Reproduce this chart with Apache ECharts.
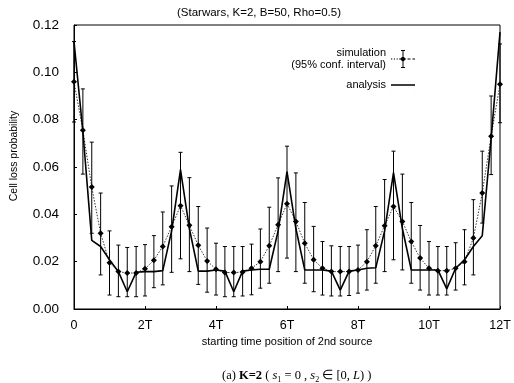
<!DOCTYPE html>
<html>
<head>
<meta charset="utf-8">
<script src="https://cdn.jsdelivr.net/npm/echarts/dist/echarts.min.js"></script>
<style>
  html, body { margin: 0; padding: 0; background: #fff; }
  #chart { width: 514px; height: 383px; }
</style>
</head>
<body>
<div id="chart"></div>
<script>
// start position of 2nd source, in units of T
const positions = [
  0, 0.25, 0.5, 0.75, 1, 1.25, 1.5, 1.75, 2, 2.25, 2.5, 2.75,
  3, 3.25, 3.5, 3.75, 4, 4.25, 4.5, 4.75, 5, 5.25, 5.5, 5.75,
  6, 6.25, 6.5, 6.75, 7, 7.25, 7.5, 7.75, 8, 8.25, 8.5, 8.75,
  9, 9.25, 9.5, 9.75, 10, 10.25, 10.5, 10.75, 11, 11.25, 11.5, 11.75, 12
]
// simulation mean and 95% confidence bounds
const simMean = [
  0.096, 0.0755, 0.0515, 0.032, 0.0195, 0.0158, 0.0152, 0.0152, 0.017, 0.0206, 0.0264, 0.0348,
  0.0436, 0.0354, 0.0269, 0.0203, 0.0168, 0.0154, 0.0154, 0.0156, 0.0172, 0.020, 0.0267, 0.0356,
  0.0445, 0.037, 0.0278, 0.0208, 0.0172, 0.0158, 0.0158, 0.0158, 0.0165, 0.020, 0.0267, 0.0352,
  0.0433, 0.037, 0.0285, 0.0215, 0.0172, 0.0162, 0.0162, 0.0172, 0.020, 0.030, 0.049, 0.073, 0.095
]
const simLow = [
  0.079, 0.057, 0.032, 0.0144, 0.0059, 0.0052, 0.0052, 0.0052, 0.0055, 0.009, 0.0102, 0.0155,
  0.0212, 0.0158, 0.0104, 0.0071, 0.0059, 0.0052, 0.0052, 0.0055, 0.006, 0.0088, 0.0109, 0.0158,
  0.0215, 0.0158, 0.0109, 0.0073, 0.0059, 0.0055, 0.0055, 0.0057, 0.0067, 0.008, 0.0109, 0.0158,
  0.0208, 0.0165, 0.0109, 0.008, 0.0059, 0.0059, 0.0059, 0.008, 0.0102, 0.0144, 0.0363, 0.0568, 0.0787
]
const simHigh = [
  0.113, 0.093, 0.0705, 0.049, 0.033, 0.027, 0.026, 0.0264, 0.0272, 0.031, 0.041, 0.052,
  0.0662, 0.0555, 0.0433, 0.0342, 0.0278, 0.0264, 0.0264, 0.0264, 0.0274, 0.0338, 0.043, 0.0554,
  0.0688, 0.0575, 0.045, 0.0349, 0.0285, 0.0267, 0.0264, 0.0264, 0.027, 0.0335, 0.0433, 0.0547,
  0.0667, 0.057, 0.045, 0.0353, 0.0285, 0.0264, 0.0264, 0.028, 0.0335, 0.0462, 0.0667, 0.090, 0.112
]
// analytical result
const analysis = [
  0.113, 0.075, 0.029, 0.0264, 0.0208, 0.0158, 0.0073, 0.0155, 0.0158, 0.0158, 0.0162, 0.033,
  0.0589, 0.034, 0.016, 0.016, 0.0165, 0.016, 0.0073, 0.016, 0.0165, 0.0168, 0.0168, 0.033,
  0.058, 0.034, 0.0165, 0.0165, 0.0165, 0.016, 0.008, 0.016, 0.0165, 0.0172, 0.0174, 0.033,
  0.0576, 0.034, 0.0165, 0.0165, 0.0165, 0.0165, 0.0085, 0.0172, 0.0208, 0.0264, 0.031, 0.072, 0.117
]
const xTicks = [0, 2, 4, 6, 8, 10, 12]

const simName = 'simulation\n(95% conf. interval)'
const anaName = 'analysis'

const pairs = (ys) => positions.map((x, i) => [x, ys[i]])
const barData = positions.map((x, i) => [x, simLow[i], simHigh[i]])

const chart = echarts.init(document.getElementById('chart'))

// legend glyphs: dotted lead-in, error bar with diamond, dashed tail / plain solid line
const simIcon = 'path://M0,8.5h1.2v1h-1.2z M2.8,8.5h1.2v1h-1.2z M5.6,8.5h1.2v1h-1.2z M8.2,8.5h1.2v1h-1.2z' +
  ' M11.5,0h1v18h-1z M10,0h4v1h-4z M10,17h4v1h-4z M12,6L15,9L12,12L9,9z' +
  ' M16.5,8.5h3v1h-3z M21.5,8.5h2.5v1h-2.5z'
const anaIcon = 'path://M0,0h0.01v18h-0.01z M0,8.3h24v1.4h-24z M23.99,0h0.01v18h-0.01z'

const option = {
  animation: false,
  textStyle: { fontFamily: 'Liberation Sans, Arial, sans-serif', color: '#000' },
  title: [{
    text: '(Starwars, K=2, B=50, Rho=0.5)',
    left: 172, top: 2,
    textStyle: { fontSize: 11.5, fontWeight: 'normal', color: '#000' }
  }, {
    text: '(a) {b|K=2} ( {i|s}{sub|1} = 0 , {i|s}{sub|2} ∈ [0, {i|L}) )',
    left: 217, top: 363,
    textStyle: {
      fontFamily: 'Liberation Serif, serif', fontSize: 12.5, fontWeight: 'normal', color: '#000',
      rich: {
        b: { fontFamily: 'Liberation Serif, serif', fontSize: 12.5, fontWeight: 'bold' },
        i: { fontFamily: 'Liberation Serif, serif', fontSize: 12.5, fontStyle: 'italic' },
        sub: { fontFamily: 'Liberation Serif, serif', fontSize: 8, padding: [8, 0, 0, 0] }
      }
    }
  }],
  legend: {
    orient: 'vertical',
    right: 94, top: 42,
    align: 'right',
    itemWidth: 24, itemHeight: 18, itemGap: 5,
    textStyle: { fontSize: 11, lineHeight: 12, color: '#000' },
    data: [{ name: simName, icon: simIcon }, { name: anaName, icon: anaIcon }]
  },
  grid: {
    left: 74, right: 14, top: 25, bottom: 74,
    show: true, borderColor: '#000', borderWidth: 1
  },
  xAxis: {
    type: 'value', min: 0, max: 12, interval: 2,
    name: 'starting time position of 2nd source',
    nameLocation: 'middle', nameGap: 23,
    nameTextStyle: { fontSize: 11, color: '#000' },
    axisLine: { lineStyle: { color: '#000', width: 1 } },
    axisTick: { inside: true, length: 3, lineStyle: { color: '#000' } },
    axisLabel: {
      fontSize: 12.5, color: '#000', margin: 10,
      formatter: v => xTicks.includes(v) ? (v === 0 ? '0' : v + 'T') : ''
    },
    splitLine: { show: false }
  },
  yAxis: {
    type: 'value', min: 0, max: 0.12, interval: 0.02,
    axisLine: { show: true, lineStyle: { color: '#000', width: 1 } },
    axisTick: { show: true, inside: true, length: 3, lineStyle: { color: '#000' } },
    axisLabel: { fontSize: 13.5, color: '#000', margin: 15, formatter: v => v.toFixed(2) },
    splitLine: { show: false }
  },
  graphic: [{
    type: 'text', x: 14, y: 156, rotation: Math.PI / 2,
    style: {
      text: 'Cell loss probability', fontSize: 10.5, fill: '#000',
      fontFamily: 'Liberation Sans, Arial, sans-serif',
      textAlign: 'center', textVerticalAlign: 'middle'
    }
  }],
  series: [{
    name: 'errorbars',
    type: 'custom',
    data: barData,
    renderItem: (params, api) => {
      const x = api.value(0)
      const lo = api.coord([x, api.value(1)])
      const hi = api.coord([x, api.value(2)])
      const cap = 2
      const st = { stroke: '#000', lineWidth: 1 }
      return {
        type: 'group',
        children: [
          { type: 'line', shape: { x1: lo[0], y1: lo[1], x2: hi[0], y2: hi[1] }, style: st },
          { type: 'line', shape: { x1: lo[0] - cap, y1: lo[1], x2: lo[0] + cap, y2: lo[1] }, style: st },
          { type: 'line', shape: { x1: hi[0] - cap, y1: hi[1], x2: hi[0] + cap, y2: hi[1] }, style: st }
        ]
      }
    },
    z: 2
  }, {
    name: simName,
    type: 'line',
    data: pairs(simMean),
    symbol: 'diamond', symbolSize: 6,
    itemStyle: { color: '#000' },
    lineStyle: { color: '#000', width: 0.8, type: [1.5, 1.5] },
    z: 3
  }, {
    name: anaName,
    type: 'line',
    data: pairs(analysis),
    symbol: 'none',
    itemStyle: { color: '#000' },
    lineStyle: { color: '#000', width: 1.6 },
    z: 4
  }]
}

chart.setOption(option)
</script>
</body>
</html>
